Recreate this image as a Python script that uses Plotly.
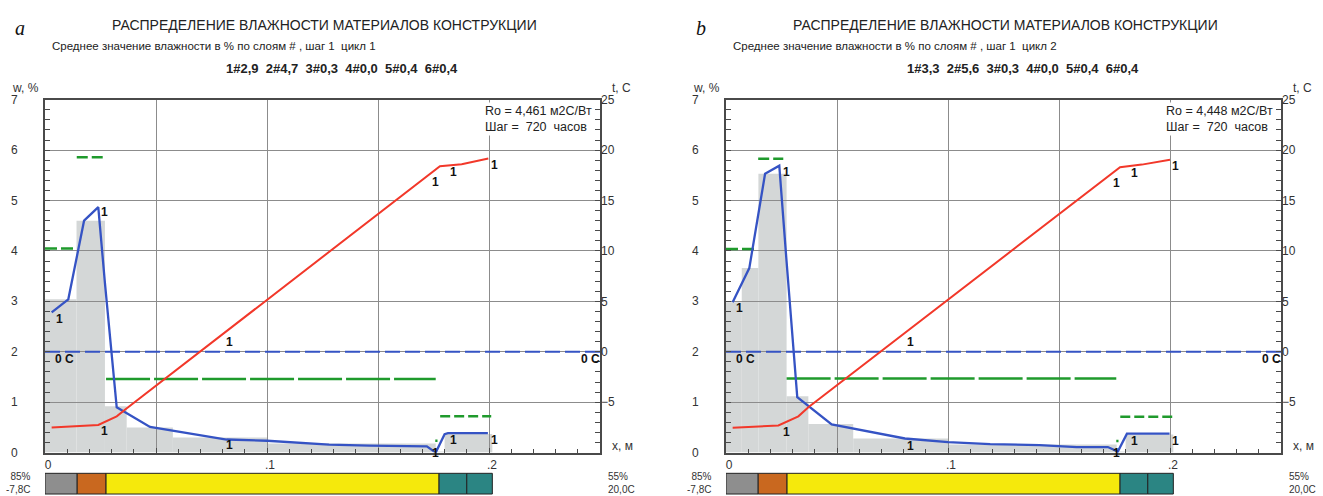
import plotly.graph_objects as go

W, H = 1323, 496

# ---------------- data ----------------
# wall layers along thickness x, m
layer_edges = [0.0, 0.0145, 0.0275, 0.1775, 0.19, 0.2015]
layer_colors = ["#8e8e8e", "#c9681f", "#f5e90c", "#2b8583", "#2b8583"]

# panel a: cycle 1
means_a = [2.9, 4.7, 0.3, 0.0, 0.4, 0.4]
ro_a = "4,461"
x_w_a = [0.003, 0.0105, 0.0176, 0.024, 0.027, 0.0323, 0.0473, 0.0818, 0.100, 0.128, 0.146, 0.172, 0.176, 0.180, 0.1815, 0.1995]
w_a = [2.78, 3.04, 4.60, 4.87, 3.36, 0.90, 0.51, 0.26, 0.235, 0.16, 0.14, 0.125, 0.0, 0.365, 0.385, 0.385]
x_t_a = [0.003, 0.024, 0.0323, 0.0370, 0.1779, 0.1877, 0.1997]
t_a = [-7.50, -7.26, -6.40, -5.57, 18.40, 18.60, 19.16]
grey_edges_a = [0.0, 0.0142, 0.027, 0.0368, 0.0576, 0.100, 0.176, 0.180, 0.2015]
grey_vals_a = [3.04, 4.60, 0.92, 0.50, 0.30, 0.18, 0.02, 0.37]
green_x0_a = [0.0, 0.0143, 0.0275, 0.1758, 0.1780]
green_x1_a = [0.0135, 0.0260, 0.1760, 0.1768, 0.2010]
green_w_a = [4.05, 5.86, 1.46, 0.235, 0.72]
ones_x_a = [0.0064, 0.027, 0.027, 0.0829, 0.0829, 0.1757, 0.1842, 0.2027, 0.1761, 0.1842, 0.2027]
ones_w_a = [2.66, 4.77, 0.43, 2.19, 0.16, 5.37, 5.57, 5.70, 0.0, 0.25, 0.25]

# panel b: cycle 2
means_b = [3.3, 5.6, 0.3, 0.0, 0.4, 0.4]
ro_b = "4,448"
x_w_b = [0.003, 0.0105, 0.0176, 0.024, 0.027, 0.0321, 0.0476, 0.0806, 0.100, 0.119, 0.1413, 0.158, 0.172, 0.1765, 0.1806, 0.1998]
w_b = [2.98, 3.66, 5.53, 5.69, 3.95, 1.10, 0.56, 0.28, 0.21, 0.17, 0.15, 0.11, 0.11, 0.02, 0.375, 0.375]
x_t_b = [0.003, 0.0236, 0.0326, 0.0371, 0.1775, 0.1873, 0.2000]
t_b = [-7.54, -7.30, -6.40, -5.50, 18.30, 18.56, 19.05]
grey_edges_b = [0.0, 0.0071, 0.0146, 0.0273, 0.0371, 0.0573, 0.100, 0.176, 0.180, 0.2015]
grey_vals_b = [2.98, 3.66, 5.53, 1.12, 0.57, 0.28, 0.16, 0.02, 0.36]
green_x0_b = [0.0, 0.0145, 0.0273, 0.1758, 0.1776]
green_x1_b = [0.0138, 0.0258, 0.1758, 0.1768, 0.2010]
green_w_b = [4.04, 5.83, 1.47, 0.23, 0.71]
ones_x_b = [0.0063, 0.0273, 0.0273, 0.0829, 0.0829, 0.1757, 0.1842, 0.2027, 0.1761, 0.1842, 0.2027]
ones_w_b = [2.87, 5.56, 0.40, 2.19, 0.14, 5.35, 5.55, 5.69, 0.0, 0.23, 0.23]

step_hours = 720
zero_x = [0.0, 0.25]
zero_t = [0.0, 0.0]
w_ticks = [0, 1, 2, 3, 4, 5, 6, 7]
t_ticks = [-5, 0, 5, 10, 15, 20, 25]
x_ticks = [0, 0.05, 0.1, 0.15, 0.2, 0.25]
x_ticktext = ["0", "", ".1", "", ".2", ""]

# ---------------- styling ----------------
FONT = "Liberation Sans, Arial, sans-serif"
BLUE = "#3553c4"
RED = "#f2382a"
GREEN = "#1f9a2c"
GREY_FILL = "#d4d7d7"
GRID = "#8c8c8c"
FRAME = "#4a4a4a"
TXT = "#333333"
green_dash = ["12px,4px", "11px,4px", "44px,4px", "solid", "10px,4px"]

plot_top, plot_bot = 94, 452
bar_top, bar_bot = 473, 494


def fx(p):
    return p / W


def fy(p):
    return 1 - p / H


def note(x, y, text, size=12, color=TXT, xanchor="center", yanchor="middle", family=FONT, **kw):
    return dict(xref="paper", yref="paper", x=fx(x), y=fy(y), text=text, showarrow=False,
                xanchor=xanchor, yanchor=yanchor,
                font=dict(family=family, size=size, color=color), **kw)


fig = go.Figure()

panels = [
    dict(xa="x", ya="y", ta="y2", left=45, off=0, letter="a", cycle=1,
         means=means_a, ro=ro_a, xw=x_w_a, w=w_a, xt=x_t_a, t=t_a,
         ge=grey_edges_a, gv=grey_vals_a, g0=green_x0_a, g1=green_x1_a, gw=green_w_a,
         ox=ones_x_a, ow=ones_w_a),
    dict(xa="x2", ya="y3", ta="y4", left=726, off=681, letter="b", cycle=2,
         means=means_b, ro=ro_b, xw=x_w_b, w=w_b, xt=x_t_b, t=t_b,
         ge=grey_edges_b, gv=grey_vals_b, g0=green_x0_b, g1=green_x1_b, gw=green_w_b,
         ox=ones_x_b, ow=ones_w_b),
]

shapes = []
annotations = []

for p in panels:
    xa, ya, ta = p["xa"], p["ya"], p["ta"]
    # 0 C isotherm
    fig.add_trace(go.Scatter(x=zero_x, y=zero_t, xaxis=xa, yaxis=ta, mode="lines",
                             line=dict(color=BLUE, width=2, dash="15px,5px"),
                             hoverinfo="skip", showlegend=False))
    # maximum sorption moisture per layer
    for x0, x1, gw, d in zip(p["g0"], p["g1"], p["gw"], green_dash):
        fig.add_trace(go.Scatter(x=[x0, x1], y=[gw, gw], xaxis=xa, yaxis=ya, mode="lines",
                                 line=dict(color=GREEN, width=2.5, dash=d),
                                 hoverinfo="skip", showlegend=False))
    # moisture profile
    fig.add_trace(go.Scatter(x=p["xw"], y=p["w"], xaxis=xa, yaxis=ya, mode="lines",
                             line=dict(color=BLUE, width=2.3), showlegend=False))
    # temperature profile
    fig.add_trace(go.Scatter(x=p["xt"], y=p["t"], xaxis=xa, yaxis=ta, mode="lines",
                             line=dict(color=RED, width=2), showlegend=False))

    # averaged moisture steps (under the grid)
    for i, v in enumerate(p["gv"]):
        shapes.append(dict(type="rect", xref=xa, yref=ya, layer="below",
                           x0=p["ge"][i], x1=p["ge"][i + 1], y0=0, y1=v,
                           fillcolor=GREY_FILL, line=dict(width=0)))
    # layer strip
    for i, c in enumerate(layer_colors):
        shapes.append(dict(type="rect", xref=xa, yref="paper",
                           x0=layer_edges[i], x1=layer_edges[i + 1],
                           y0=fy(bar_bot), y1=fy(bar_top),
                           fillcolor=c, line=dict(color="#222222", width=1)))

    # curve marks "1"
    for x, w in zip(p["ox"], p["ow"]):
        annotations.append(dict(xref=xa, yref=ya, x=x, y=w, text="<b>1</b>", showarrow=False,
                                font=dict(family=FONT, size=12, color="#111111")))
    annotations.append(dict(xref=xa, yref=ya, x=0.0086, y=1.86, text="<b>0 C</b>", showarrow=False,
                            font=dict(family=FONT, size=12, color="#111111")))
    annotations.append(dict(xref=xa, yref=ya, x=0.2455, y=1.86, text="<b>0 C</b>", showarrow=False,
                            font=dict(family=FONT, size=12, color="#111111")))
    # moisture axis labels, set well off the frame
    for v in w_ticks:
        annotations.append(dict(xref="paper", yref=ya, x=fx(p["left"] - 31), y=v, text=str(v),
                                showarrow=False, xanchor="center", yanchor="middle",
                                font=dict(family=FONT, size=12, color=TXT)))

    off = p["off"]
    left = p["left"]
    right = left + 555
    means_txt = "  ".join(f"{i + 1}#{m:.1f}".replace(".", ",") for i, m in enumerate(p["means"]))
    annotations += [
        note(20 + off, 21, "<i>" + p["letter"] + "</i>", size=20, color="#111111",
             family="Liberation Serif, serif"),
        note(324 + off, 18, "РАСПРЕДЕЛЕНИЕ ВЛАЖНОСТИ МАТЕРИАЛОВ КОНСТРУКЦИИ", size=14, color="#222222"),
        note(214 + off, 40, f"Среднее значение влажности в % по слоям # , шаг 1  цикл {p['cycle']}",
             size=11.5, color="#222222"),
        note(342 + off, 62, "<b>" + means_txt + "</b>", size=13, color="#222222"),
        note(left - 35, 82, "w, %", xanchor="left"),
        note(right + 10, 82, "t, C", xanchor="left"),
        note(right + 10, 445, "x, м", xanchor="left"),
        note(left - 12, 483, "85%<br>-7,8C", size=10, xanchor="right", align="right"),
        note(right + 6, 483, "55%<br>20,0C", size=10, xanchor="left", align="left"),
        note(right - 6, 96, f"Ro = {p['ro']} м2С/Вт<br>Шаг =  {step_hours}  часов", size=12.5,
             color="#222222", xanchor="right", yanchor="top", align="left",
             bgcolor="white", borderpad=1),
    ]

ydom = [fy(plot_bot), fy(plot_top)]
tick_font = dict(family=FONT, size=12, color=TXT)


def xaxis_cfg(left, anchor):
    return dict(domain=[fx(left), fx(left + 555)], anchor=anchor, range=[0, 0.25],
                tickvals=x_ticks, ticktext=x_ticktext, ticks="inside", ticklen=5,
                tickcolor=FRAME, showgrid=True, gridcolor=GRID, gridwidth=1,
                showline=True, linecolor=FRAME, linewidth=1.5, mirror=True, zeroline=False,
                minor=dict(dtick=0.01, ticks="inside", ticklen=4, tickcolor=FRAME, showgrid=False),
                tickfont=tick_font, ticklabelshift=3)


def waxis_cfg(anchor):
    return dict(domain=ydom, anchor=anchor, range=[0, 7], tickvals=w_ticks,
                ticks="inside", ticklen=5, tickcolor=FRAME, showgrid=True, gridcolor=GRID,
                gridwidth=1, showline=True, linecolor=FRAME, linewidth=1.5, mirror=True,
                zeroline=False, showticklabels=False,
                minor=dict(dtick=0.2, ticks="inside", ticklen=5, tickcolor=FRAME, showgrid=False))


def taxis_cfg(anchor, over):
    return dict(anchor=anchor, overlaying=over, side="right", range=[-10, 25],
                tickvals=t_ticks, ticks="inside", ticklen=5, tickcolor=FRAME,
                showgrid=False, zeroline=False, showline=False,
                minor=dict(dtick=1, ticks="inside", ticklen=5, tickcolor=FRAME, showgrid=False),
                tickfont=tick_font)


fig.update_layout(
    width=W, height=H, autosize=False,
    margin=dict(l=0, r=0, t=0, b=0),
    paper_bgcolor="white", plot_bgcolor="white",
    showlegend=False,
    xaxis=xaxis_cfg(45, "y"),
    yaxis=waxis_cfg("x"),
    yaxis2=taxis_cfg("x", "y"),
    xaxis2=xaxis_cfg(726, "y3"),
    yaxis3=waxis_cfg("x2"),
    yaxis4=taxis_cfg("x2", "y3"),
    shapes=shapes,
    annotations=annotations,
)

fig.write_html("out.html")
